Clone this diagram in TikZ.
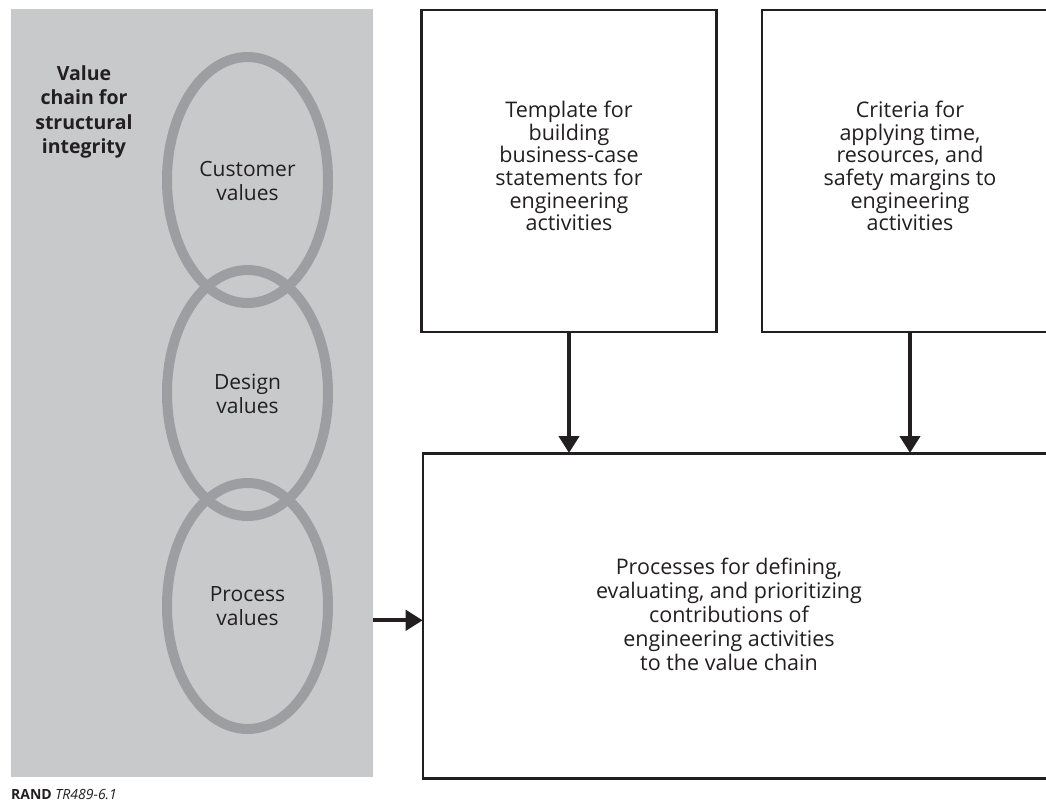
\documentclass[tikz,border=0pt]{standalone}
\usepackage{fontspec}
\setmainfont{Open Sans}
\usetikzlibrary{arrows.meta}
\definecolor{panelgray}{HTML}{C8C9CB}
\definecolor{ringgray}{HTML}{9D9EA1}
\definecolor{ink}{HTML}{231F20}
\tikzset{
  ring/.style={draw=ringgray, line width=10pt},
  ringlabel/.style={font=\fontsize{21}{23.5}\selectfont, text=ink, align=center, inner sep=0pt},
  box/.style={draw=ink, line width=2.6pt, fill=white, inner sep=0pt},
  boxlabel/.style={font=\fontsize{21.5}{22.7}\selectfont, text=ink, align=center, inner sep=0pt},
  flow/.style={draw=ink, line width=4.2pt, -{Triangle[width=20pt,length=17pt]}, shorten >=-1pt}
}
\begin{document}
\begin{tikzpicture}[x=1pt, y=-1pt]
  \path[use as bounding box] (0,0) rectangle (1046,804);
  \clip (0,0) rectangle (1046,804);

  % grey value-chain panel
  \node[fill=panelgray, minimum width=362pt, minimum height=768pt, inner sep=0pt, anchor=north west] (panel) at (11,9) {};
  \node[font=\bfseries\fontsize{19.5}{24.3}\selectfont, text=ink, align=center, inner sep=0pt] (title) at (84,112)
    {Value\\chain for\\structural\\integrity};

  % three linked rings
  \draw[ring] (247.5,180) ellipse [x radius=80.5, y radius=123];
  \draw[ring] (247.5,393) ellipse [x radius=80.5, y radius=123];
  \draw[ring] (247.5,606) ellipse [x radius=80.5, y radius=123];
  \node[ringlabel] (cust) at (247.5,181) {Customer\\values};
  \node[ringlabel] (design) at (247.5,394) {Design\\values};
  \node[ringlabel] (proc) at (247.5,606) {Process\\values};

  % boxes
  \node[box, minimum width=295pt, minimum height=322pt] (tmpl) at (569,171) {};
  \node[boxlabel] (tmpltext) at (569,166)
    {Template for\\building\\business-case\\statements for\\engineering\\activities};
  \node[box, minimum width=296pt, minimum height=322pt] (crit) at (910,171) {};
  \node[boxlabel] (crittext) at (910,166)
    {Criteria for\\applying time,\\resources, and\\safety margins to\\engineering\\activities};
  \node[box, minimum width=640pt, minimum height=325pt, anchor=north west] (proc box) at (421.7,452) {};
  \node[boxlabel, font=\fontsize{21.5}{24}\selectfont] (proctext) at (729,614)
    {Processes for defining,\\evaluating, and prioritizing\\contributions of\\engineering activities\\to the value chain};

  % connectors
  \draw[flow] (tmpl.south) -- (tmpl.south |- proc box.north);
  \draw[flow] (crit.south) -- (crit.south |- proc box.north);
  \coordinate (inlet) at ([yshift=-4.5pt]proc box.west);
  \draw[flow] (panel.east |- inlet) -- (inlet);

  % figure tag
  \node[font=\fontsize{14}{16}\selectfont, text=ink, anchor=west, inner sep=0pt] (tag) at (11,795)
    {\textbf{RAND} \textit{TR489-6.1}};
\end{tikzpicture}
\end{document}
